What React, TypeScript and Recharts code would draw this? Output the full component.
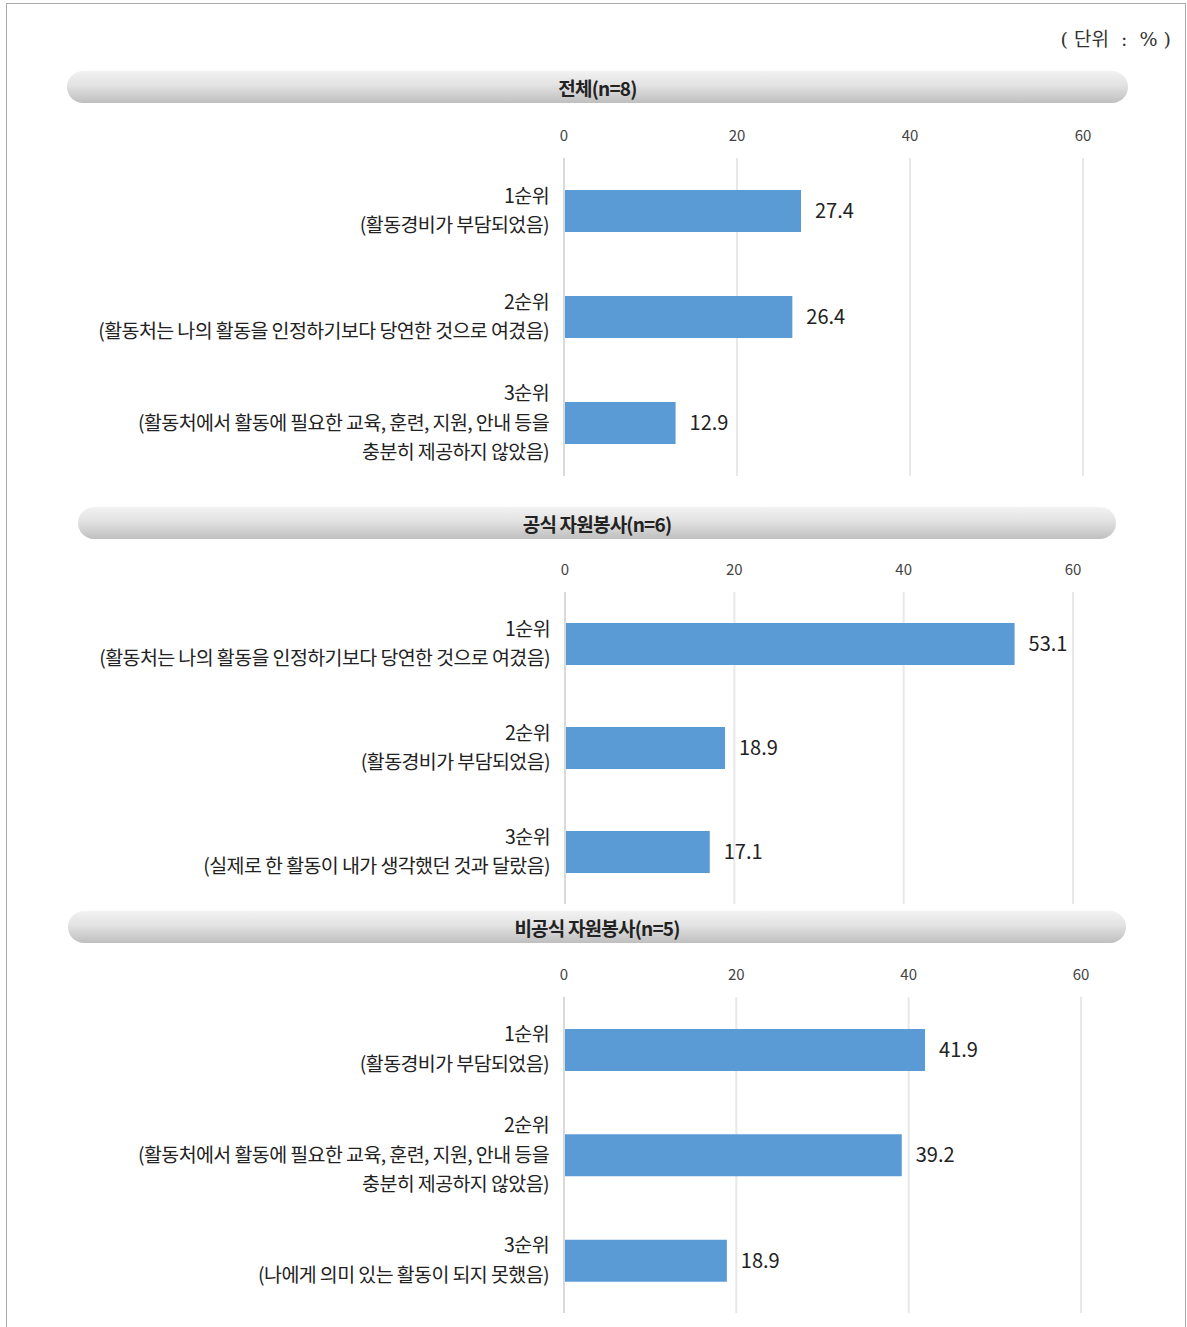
import React from 'react';
import { BarChart, Bar, XAxis, YAxis, CartesianGrid, LabelList } from 'recharts';

const FONT = "'Noto Sans CJK KR', 'Noto Sans', sans-serif";
const BAR_COLOR = '#5b9bd5';

const panelTitles = ['전체(n=8)', '공식 자원봉사(n=6)', '비공식 자원봉사(n=5)'];
const axisTicks = [0, 20, 40, 60];

const totalLabels = [
    '1순위\n(활동경비가 부담되었음)',
    '2순위\n(활동처는 나의 활동을 인정하기보다 당연한 것으로 여겼음)',
    '3순위\n(활동처에서 활동에 필요한 교육, 훈련, 지원, 안내 등을\n충분히 제공하지 않았음)',
];
const totalValues = [27.4, 26.4, 12.9];

const formalLabels = [
    '1순위\n(활동처는 나의 활동을 인정하기보다 당연한 것으로 여겼음)',
    '2순위\n(활동경비가 부담되었음)',
    '3순위\n(실제로 한 활동이 내가 생각했던 것과 달랐음)',
];
const formalValues = [53.1, 18.9, 17.1];

const informalLabels = [
    '1순위\n(활동경비가 부담되었음)',
    '2순위\n(활동처에서 활동에 필요한 교육, 훈련, 지원, 안내 등을\n충분히 제공하지 않았음)',
    '3순위\n(나에게 의미 있는 활동이 되지 못했음)',
];
const informalValues = [41.9, 39.2, 18.9];

function CategoryTick(props: any) {
    const { x, y, payload } = props;
    const lines = String(payload.value).split('\n');
    const step = 29.5;
    const start = y - 2 - ((lines.length - 1) * step) / 2;
    return (
        <text x={x - 15} y={start} textAnchor="end" fill="#222" fontSize={19.5} fontFamily={FONT} letterSpacing={-0.6}>
            {lines.map((l, i) => (
                <tspan key={i} x={x - 15} y={start + i * step} dominantBaseline="central">{l}</tspan>
            ))}
        </text>
    );
}

function ValueTick(props: any) {
    const { x, y, payload } = props;
    return (
        <text x={x} y={y - 17} textAnchor="middle" fill="#444" fontSize={15} fontFamily={FONT}>
            {payload.value}
        </text>
    );
}

type PanelProps = {
    title: string;
    labels: string[];
    values: number[];
    pill: { left: number; right: number; top: number };
    chartTop: number;
    plotHeight: number;
    plotLeft: number;
    plotRight: number;
};

function Panel({ title, labels, values, pill, chartTop, plotHeight, plotLeft, plotRight }: PanelProps) {
    const data = labels.map((label, i) => ({ label, value: values[i] }));
    return (
        <>
            <div
                style={{
                    position: 'absolute',
                    left: pill.left,
                    top: pill.top,
                    width: pill.right - pill.left,
                    height: 32,
                    borderRadius: 16,
                    background: 'linear-gradient(to bottom, #f2f2f2 0%, #e2e2e2 45%, #bfbfbf 100%)',
                    display: 'flex',
                    alignItems: 'center',
                    justifyContent: 'center',
                    fontFamily: FONT,
                    fontWeight: 700,
                    fontSize: 19,
                    letterSpacing: -0.8,
                    color: '#222',
                }}
            >
                {title}
            </div>
            <div style={{ position: 'absolute', left: 0, top: chartTop }}>
                <BarChart
                    width={1187}
                    height={plotHeight + 40}
                    data={data}
                    layout="vertical"
                    margin={{ top: 0, right: 1187 - plotRight, bottom: 0, left: 0 }}
                >
                    <CartesianGrid horizontal={false} stroke="#e8e8e8" strokeWidth={2} />
                    <XAxis
                        type="number"
                        orientation="top"
                        domain={[0, 60]}
                        ticks={axisTicks}
                        height={40}
                        axisLine={false}
                        tickLine={false}
                        tickSize={0}
                        tickMargin={0}
                        tick={<ValueTick />}
                        interval={0}
                    />
                    <YAxis
                        type="category"
                        dataKey="label"
                        width={plotLeft}
                        axisLine={{ stroke: '#d9d9d9', strokeWidth: 2 }}
                        tickLine={false}
                        tickSize={0}
                        tickMargin={0}
                        tick={<CategoryTick />}
                        interval={0}
                    />
                    <Bar dataKey="value" fill={BAR_COLOR} barSize={42} isAnimationActive={false}>
                        <LabelList dataKey="value" position="right" offset={14} fill="#222" fontSize={20} fontFamily={FONT} />
                    </Bar>
                </BarChart>
            </div>
        </>
    );
}

export default function App() {
    return (
        <div style={{ position: 'absolute', left: 0, top: 0, width: 1187, height: 1327, overflow: 'hidden', background: '#fff' }}>
            <div style={{ position: 'absolute', left: 6, top: 3, width: 1178, height: 1400, border: '1.5px solid #aaa' }} />
            <div
                style={{
                    position: 'absolute',
                    right: 16,
                    top: 24,
                    fontFamily: "'DejaVu Serif', 'Noto Sans CJK KR', serif",
                    fontSize: 19,
                    color: '#333',
                    whiteSpace: 'pre',
                }}
            >
                {'( 단위  :  % )'}
            </div>
            <Panel
                title={panelTitles[0]}
                labels={totalLabels}
                values={totalValues}
                pill={{ left: 67, right: 1128, top: 71 }}
                chartTop={118}
                plotHeight={318}
                plotLeft={564}
                plotRight={1083}
            />
            <Panel
                title={panelTitles[1]}
                labels={formalLabels}
                values={formalValues}
                pill={{ left: 78, right: 1116, top: 507 }}
                chartTop={552}
                plotHeight={312}
                plotLeft={565}
                plotRight={1073}
            />
            <Panel
                title={panelTitles[2]}
                labels={informalLabels}
                values={informalValues}
                pill={{ left: 68, right: 1126, top: 911 }}
                chartTop={957}
                plotHeight={316}
                plotLeft={564}
                plotRight={1081}
            />
        </div>
    );
}
